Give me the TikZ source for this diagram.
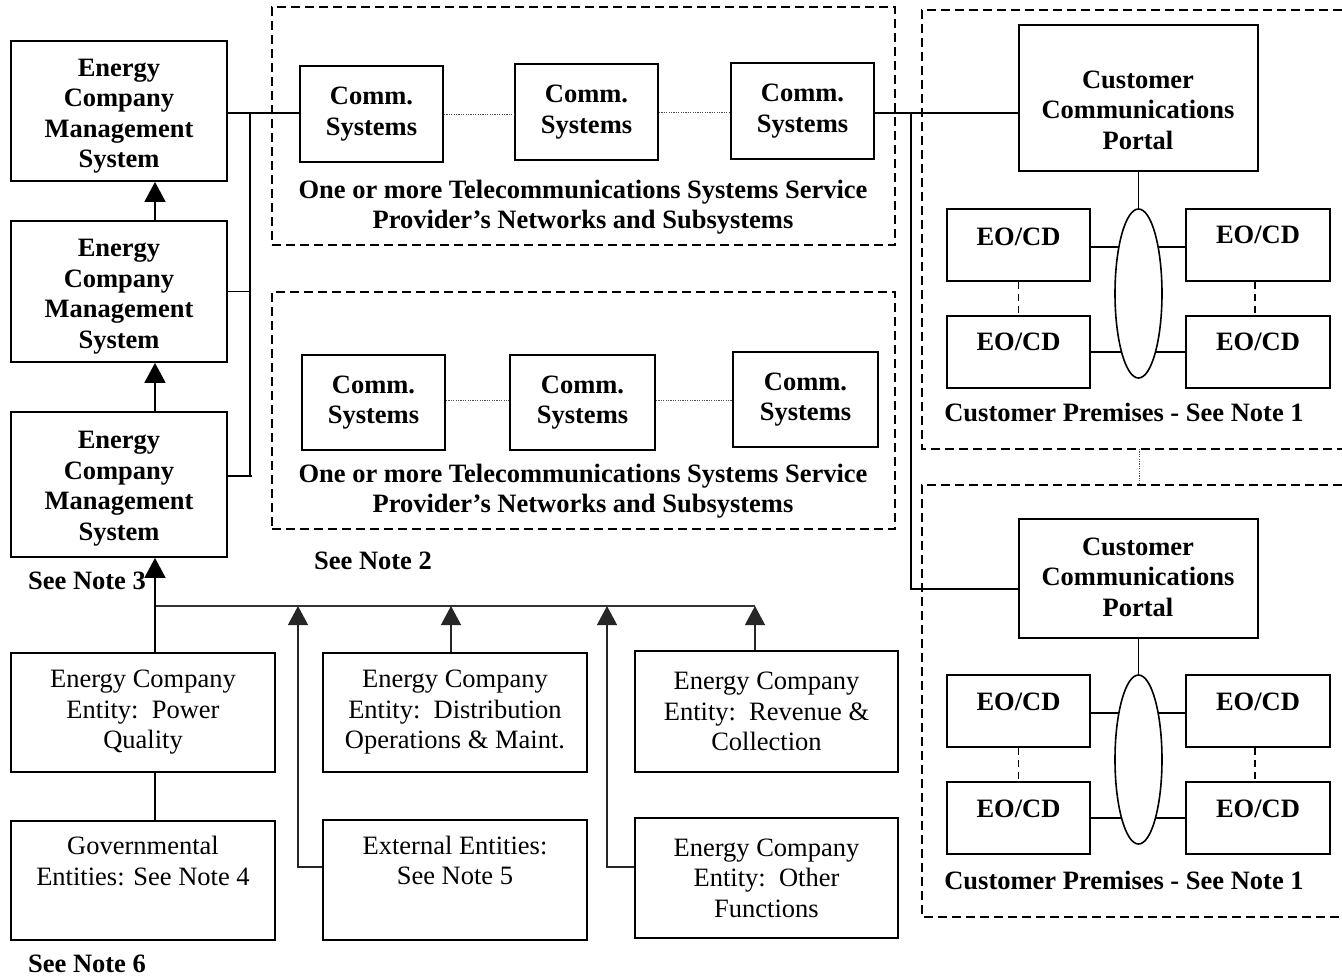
\documentclass[tikz,border=0pt]{standalone}
\usepackage{fontspec}
\setmainfont{Liberation Serif}
\usetikzlibrary{arrows.meta,shapes.geometric,calc,backgrounds}
\newcommand\myfs{\fontsize{26.5}{30.5}\selectfont}
\begin{document}
\begin{tikzpicture}[x=1pt,y=-1pt,
  sz/.style 2 args={minimum width=#1pt,minimum height=#2pt},
  bbox/.style={draw,line width=1.8pt,inner sep=0pt,align=center,font=\myfs\bfseries},
  rbox/.style={draw,line width=1.8pt,inner sep=0pt,align=center,font=\myfs},
  ebox/.style={draw,line width=1.8pt,inner sep=0pt},
  dbox/.style={draw,line width=1.8pt,dash pattern=on 9pt off 5pt,inner sep=0pt},
  btext/.style={inner sep=0pt,align=center,font=\myfs\bfseries},
  conn/.style={line width=1.6pt},
  thin/.style={line width=1.3pt,black!80},
  dotc/.style={line width=1pt,black!70,dash pattern=on 1.2pt off 1.2pt},
  dashc/.style={line width=1.5pt,dash pattern=on 7pt off 5pt},
  arrA/.style={line width=1.8pt,-{Triangle[length=20pt,width=21pt]}},
  arrB/.style={line width=1.3pt,black!85,-{Triangle[length=19pt,width=20pt]}},
  ell/.style={ellipse,draw,line width=1.6pt,fill=white,inner sep=0pt,minimum width=47pt,minimum height=169pt}
]
\useasboundingbox (0,0) rectangle (1342,978);

% dashed network boxes
\node[dbox,sz={623}{238}] (net1) at (583.5,126) {};
\node[dbox,sz={623}{237}] (net2) at (583.5,410.5) {};
% customer premises dashed areas (open on the right)
\draw[dbox] (1342,10) -- (922,10) -- (922,449) -- (1342,449);
\draw[dbox] (1342,485) -- (922,485) -- (922,917) -- (1342,917);
\coordinate (cpa) at (1139,449);
\coordinate (cpb) at (1139,485);
\draw[dotc] (cpa) -- (cpb);

% energy company management systems
\node[ebox,sz={216}{140}] (ec1) at (119,111) {};
\node[ebox,sz={216}{141}] (ec2) at (119,291.5) {};
\node[ebox,sz={216}{145}] (ec3) at (119,484.5) {};
\node[btext] (ec1t) at (119,116) {Energy\\Company\\Management\\System};
\node[btext] (ec2t) at (119,296.5) {Energy\\Company\\Management\\System};
\node[btext] (ec3t) at (119,488.5) {Energy\\Company\\Management\\System};

% comm systems
\node[bbox,sz={143}{96}] (c1) at (371.5,114) {Comm.\\Systems};
\node[bbox,sz={143}{96}] (c2) at (586.5,112) {Comm.\\Systems};
\node[bbox,sz={143}{96}] (c3) at (802.5,111) {Comm.\\Systems};
\node[bbox,sz={143}{95}] (c4) at (373.5,402.5) {Comm.\\Systems};
\node[bbox,sz={145}{95}] (c5) at (582.5,402.5) {Comm.\\Systems};
\node[bbox,sz={145}{95}] (c6) at (805.5,399.5) {Comm.\\Systems};
\node[btext] (net1t) at (583,207) {One or more Telecommunications Systems Service\\Provider’s Networks and Subsystems};
\node[btext] (net2t) at (583,491) {One or more Telecommunications Systems Service\\Provider’s Networks and Subsystems};
\node[btext] (note2) at (373,561) {See Note 2};

\draw[dotc] (c1.east) -- (c1.east -| c2.west);
\draw[dotc] (c2.east) -- (c2.east -| c3.west);
\draw[dotc] (c4.east |- 0,400) -- (c5.west |- 0,400);
\draw[dotc] (c5.east |- 0,400) -- (c6.west |- 0,400);

% left bus
\coordinate (lb) at (250,113);
\coordinate (lb3) at (252,476);
\draw[conn] (ec1.east |- lb) -- (lb) -- (lb -| c1.west);
\draw[conn] (lb) -- (lb |- lb3);
\draw[conn] (ec2.east) -- (ec2.east -| lb);
\draw[conn] (lb3) -- (lb3 -| ec3.east);

% arrows between management systems
\draw[arrA] ([xshift=36pt]ec3.north) -- ([xshift=36pt]ec2.south);
\draw[arrA] ([xshift=36pt]ec2.north) -- ([xshift=36pt]ec1.south);

% customer portals
\node[ebox,sz={239}{146}] (ccp1) at (1138.5,98) {};
\node[btext] (ccp1t) at (1138,110) {Customer\\Communications\\Portal};
\node[ebox,sz={239}{119}] (ccp2) at (1138.5,578.5) {};
\node[btext] (ccp2t) at (1138,577) {Customer\\Communications\\Portal};

% right bus
\coordinate (rb) at (911,113);
\coordinate (rb2) at (911,589);
\draw[conn] (c3.east |- rb) -- (rb -| ccp1.west);
\draw[conn] (rb) -- (rb2) -- (rb2 -| ccp2.west);

% premises group 1
\node[ell] (e1) at (1138.5,293.5) {};
\node[ebox,sz={143}{72}] (tl1) at (1018.5,245) {};
\node[ebox,sz={143}{72}] (bl1) at (1018.5,352) {};
\node[ebox,sz={144}{72}] (tr1) at (1258,245) {};
\node[ebox,sz={144}{72}] (br1) at (1258,352) {};
\node[btext] at ($(tl1.center)+(0,-8)$) {EO/CD};
\node[btext] at ($(bl1.center)+(0,-10)$) {EO/CD};
\node[btext] at ($(tr1.center)+(0,-10)$) {EO/CD};
\node[btext] at ($(br1.center)+(0,-10)$) {EO/CD};
\node[btext] (cp1t) at (1124,412) {Customer Premises - See Note 1};

% premises group 2
\node[ell] (e2) at (1138.5,759.5) {};
\node[ebox,sz={143}{72}] (tl2) at (1018.5,711) {};
\node[ebox,sz={143}{72}] (bl2) at (1018.5,818) {};
\node[ebox,sz={144}{72}] (tr2) at (1258,711) {};
\node[ebox,sz={144}{72}] (br2) at (1258,818) {};
\node[btext] at ($(tl2.center)+(0,-9)$) {EO/CD};
\node[btext] at ($(bl2.center)+(0,-9)$) {EO/CD};
\node[btext] at ($(tr2.center)+(0,-9)$) {EO/CD};
\node[btext] at ($(br2.center)+(0,-9)$) {EO/CD};
\node[btext] (cp2t) at (1124,880) {Customer Premises - See Note 1};

\begin{pgfonlayer}{background}
  \draw[conn] (ccp1.south) -- (e1.north);
  \draw[conn] ($(tl1.east)+(0,2)$) -- ($(e1.center)+(0,-46.5)$);
  \draw[conn] (bl1.east) -- (bl1.east -| e1.center);
  \draw[conn] ($(tr1.west)+(0,2)$) -- ($(e1.center)+(0,-46.5)$);
  \draw[conn] (br1.west) -- (br1.west -| e1.center);
  \draw[conn] (ccp2.south) -- (e2.north);
  \draw[conn] ($(tl2.east)+(0,2)$) -- ($(e2.center)+(0,-46.5)$);
  \draw[conn] (bl2.east) -- (bl2.east -| e2.center);
  \draw[conn] ($(tr2.west)+(0,2)$) -- ($(e2.center)+(0,-46.5)$);
  \draw[conn] (br2.west) -- (br2.west -| e2.center);
\end{pgfonlayer}
\draw[dashc] (tl1.south) -- (bl1.north);
\draw[dashc] ([xshift=-3pt]tr1.south) -- ([xshift=-3pt]br1.north);
\draw[dashc] (tl2.south) -- (bl2.north);
\draw[dashc] ([xshift=-3pt]tr2.south) -- ([xshift=-3pt]br2.north);

% bottom entities
\node[rbox,sz={264}{119}] (pq) at (143,712.5) {Energy Company\\Entity:\ \ Power\\Quality};
\node[rbox,sz={264}{119}] (gov) at (143,880.5) {Governmental\\Entities: See Note 4\\\strut};
\node[rbox,sz={264}{119}] (do) at (455,712.5) {Energy Company\\Entity:\ \ Distribution\\Operations \& Maint.};
\node[rbox,sz={264}{120}] (ext) at (455,880) {External Entities:\\See Note 5\\\strut};
\node[rbox,sz={263}{121}] (rev) at (766.5,711.5) {Energy Company\\Entity:\ \ Revenue \&\\Collection};
\node[rbox,sz={263}{120}] (oth) at (766.5,878) {Energy Company\\Entity:\ \ Other\\Functions};
\node[btext] (note3) at (87,581) {See Note 3};
\node[btext] (note6) at (87,964) {See Note 6};

\coordinate (bus0) at (155,606);
\coordinate (bus1) at (755,606);
\coordinate (bx1) at (298,606);
\coordinate (bx3) at (607,606);
\draw[thin] (bus0) -- (bus1);
\draw[arrA] ([xshift=12pt]pq.north) -- ([xshift=12pt]pq.north |- ec3.south);
\draw[conn] ([xshift=12pt]pq.south) -- ([xshift=12pt]gov.north);
\draw[arrB] ($(ext.west)+(0,-13)$) -| (bx1);
\draw[arrB] ([xshift=-4pt]do.north) -- ([xshift=-4pt]do.north |- bus0);
\draw[arrB] ($(oth.west)+(0,-11)$) -| (bx3);
\draw[arrB] ([xshift=-11.5pt]rev.north) -- ([xshift=-11.5pt]rev.north |- bus0);
\end{tikzpicture}
\end{document}
